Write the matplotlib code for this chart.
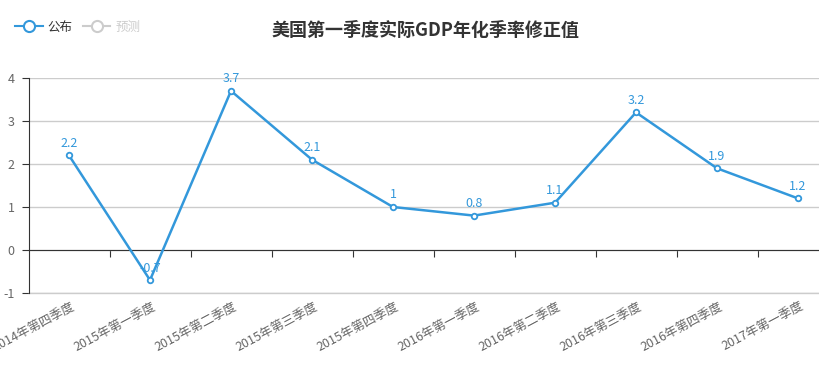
import matplotlib
matplotlib.use('Agg')
import matplotlib.pyplot as plt
from matplotlib.lines import Line2D
import matplotlib.transforms as mtransforms

plt.rcParams['font.family'] = ['Noto Sans CJK SC', 'DejaVu Sans']

quarters = ['2014年第四季度', '2015年第一季度', '2015年第二季度', '2015年第三季度',
            '2015年第四季度', '2016年第一季度', '2016年第二季度', '2016年第三季度',
            '2016年第四季度', '2017年第一季度']
gdp = [2.2, -0.7, 3.7, 2.1, 1.0, 0.8, 1.1, 3.2, 1.9, 1.2]
yticks = [-1, 0, 1, 2, 3, 4]

blue = '#3398db'
W, H = 820, 374
fig = plt.figure(figsize=(W / 100, H / 100), dpi=100)
ax = fig.add_axes([28.5 / W, 1 - 293 / H, 1 - 28.5 / W, (293 - 78) / H])

x = list(range(len(gdp)))
ax.plot(x, gdp, color=blue, lw=1.8, marker='o', ms=4, mfc='white', mec=blue, mew=1.3,
        zorder=3, clip_on=False)
for xi, v in zip(x, gdp):
    lab = '%g' % v
    ax.annotate(lab, (xi, v), xytext=(0, 4), textcoords='offset points',
                ha='center', va='bottom', color=blue, fontsize=9, zorder=4)

ax.set_yticks(yticks)
ax.set_yticklabels([str(t) for t in yticks])
ax.yaxis.grid(True, color='#cccccc', lw=1)
ax.axhline(-1, color='#cccccc', lw=1, clip_on=False, zorder=1)
ax.set_axisbelow(True)

for s in ['top', 'right']:
    ax.spines[s].set_visible(False)
ax.spines['left'].set_color('#333333')
ax.spines['bottom'].set_position(('data', 0))
ax.spines['bottom'].set_color('#333333')
ax.spines['bottom'].set_zorder(2)

ax.set_xticks([i + 0.5 for i in range(len(quarters) - 1)])
ax.set_xticklabels([])
ax.set_xlim(-0.5, -0.5 + (W - 28.5) / 81)
ax.set_ylim(-1, 4)
ax.tick_params(axis='x', direction='out', length=5, color='#333333')
ax.tick_params(axis='y', direction='out', length=5, color='#333333',
               labelcolor='#666666', labelsize=9, pad=5)

trans = mtransforms.blended_transform_factory(ax.transData, fig.transFigure)
for i, q in enumerate(quarters):
    ax.text(i + 0.02, 1 - 300 / H, q, transform=trans, rotation=28,
            rotation_mode='anchor', ha='right', va='top', color='#666666',
            fontsize=9, clip_on=False)

fig.text(425 / W, 1 - 31 / H, '美国第一季度实际GDP年化季率修正值', ha='center', va='center',
         fontsize=13, fontweight='bold', color='#333333')

handles = [Line2D([], [], color=blue, lw=1.5, marker='o', ms=8, mfc='white', mec=blue, mew=1.5),
           Line2D([], [], color='#cccccc', lw=1.5, marker='o', ms=8, mfc='white', mec='#cccccc', mew=1.5)]
leg = fig.legend(handles, ['公布', '预测'], loc='center left', bbox_to_anchor=(0.005, 1 - 27 / H),
                 ncol=2, frameon=False, fontsize=9, handlelength=2.2, handletextpad=0.4,
                 columnspacing=0.8)
leg.get_texts()[0].set_color('#333333')
leg.get_texts()[1].set_color('#cccccc')

fig.savefig('out.png', dpi=100)
